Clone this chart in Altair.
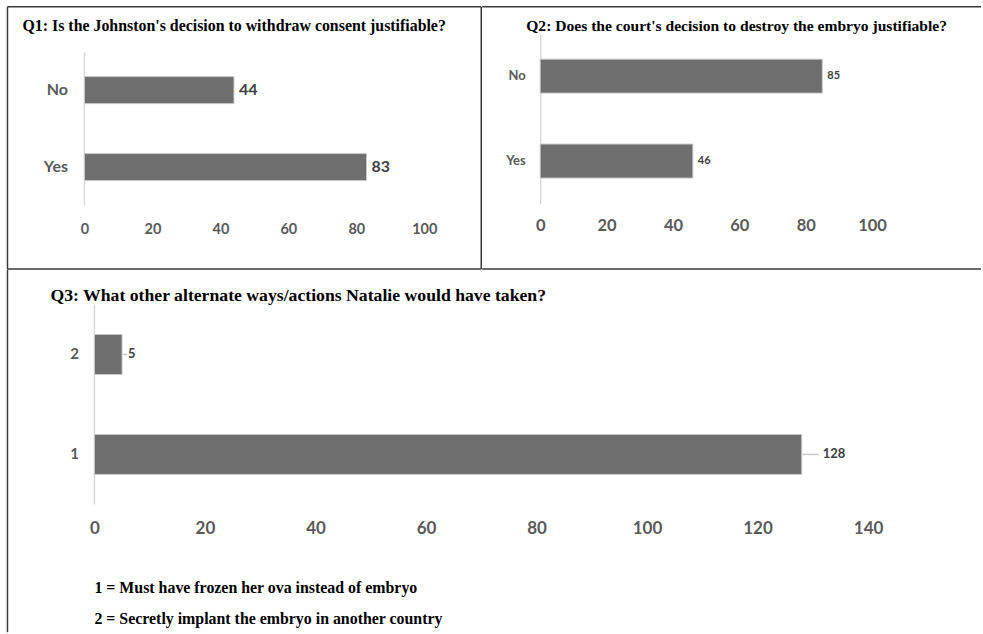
import altair as alt
import pandas as pd

# ---------------- data ----------------
q1_title = "Q1: Is the Johnston's decision to withdraw consent justifiable?"
q1_categories = ["No", "Yes"]
q1_values = [44, 83]
q1_ticks = [0, 20, 40, 60, 80, 100]

q2_title = "Q2: Does the court's decision to destroy the embryo justifiable?"
q2_categories = ["No", "Yes"]
q2_values = [85, 46]
q2_ticks = [0, 20, 40, 60, 80, 100]

q3_title = "Q3: What other alternate ways/actions Natalie would have taken?"
q3_categories = ["2", "1"]
q3_values = [5, 128]
q3_ticks = [0, 20, 40, 60, 80, 100, 120, 140]
q3_notes = [
    "1 = Must have frozen her ova instead of embryo",
    "2 = Secretly implant the embryo in another country",
]

# ---------------- style ----------------
BAR = "#6e6e6e"
BAR_EDGE = "#c8c8c8"
AXIS_TEXT = "#595959"
AXIS_LINE = "#d9d9d9"
VALUE_TEXT = "#404040"
BORDER = "#3a3a3a"
SERIF = "Liberation Serif"
SANS = "Lato"


def one_row():
    return pd.DataFrame({"k": [0]})


def rule(x1, y1, x2, y2, visible=True, color=BORDER, width=1.5):
    return alt.Chart(one_row()).mark_rule(
        color=color, strokeWidth=width, opacity=1 if visible else 0
    ).encode(x=alt.value(x1), x2=alt.value(x2), y=alt.value(y1), y2=alt.value(y2))


def text_at(txt, x, y, size, align="left"):
    return alt.Chart(pd.DataFrame({"t": [txt]})).mark_text(
        align=align, baseline="middle", font=SERIF, fontSize=size,
        fontWeight="bold", color="black"
    ).encode(x=alt.value(x), y=alt.value(y), text="t:N")


def bar_base(cats, vals, xdomain, ticks, xfs, xpad, yfs, ypad,
             ydomain_line=True, ypad_outer=0.0, yalign=0.5):
    df = pd.DataFrame({"cat": cats, "val": vals})
    return alt.Chart(df).encode(
        y=alt.Y(
            "cat:N", sort=cats,
            scale=alt.Scale(paddingInner=0, paddingOuter=ypad_outer, align=yalign),
            axis=alt.Axis(
                title=None, domain=ydomain_line, domainColor=AXIS_LINE, domainWidth=1.5,
                ticks=False, grid=False, labelFont=SANS, labelFontSize=yfs,
                labelColor=AXIS_TEXT, labelFontWeight="bold", labelPadding=ypad,
            ),
        ),
        x=alt.X(
            "val:Q",
            scale=alt.Scale(domain=xdomain, nice=False, zero=True),
            axis=alt.Axis(
                title=None, values=ticks, domain=False, ticks=False, grid=False,
                labelFont=SANS, labelFontSize=xfs, labelColor=AXIS_TEXT,
                labelFontWeight="bold", labelPadding=xpad, labelFlush=False,
                labelOverlap=False, format="d",
            ),
        ),
    )


def zero_line(y1, y2):
    return alt.Chart(one_row()).mark_rule(color=AXIS_LINE, strokeWidth=1.5).encode(
        x=alt.datum(0), y=alt.value(y1), y2=alt.value(y2))


# ---------------- panel 1 (plot origin at 84, 33) ----------------
b1 = bar_base(q1_categories, q1_values, [0, 100], q1_ticks, 14.5, 17, 16, 17,
              ydomain_line=False, ypad_outer=0.1169, yalign=1)
p1 = alt.layer(
    zero_line(19, 172),
    b1.mark_bar(size=27, color=BAR, stroke=BAR_EDGE, strokeWidth=1),
    b1.mark_text(align="left", baseline="middle", dx=5, font=SANS, fontSize=16,
                 fontWeight="bold", color=VALUE_TEXT).encode(text="val:Q"),
    text_at(q1_title, -62, -8, 15.9),
    rule(-77, -27, 397, -27),
    rule(-77, -27, -77, 235.5),
    rule(397, -27, 397, 235.5),
    rule(-77, 235.5, 397, 235.5),
).properties(width=340, height=172)

# ---------------- panel 2 (plot origin at 539, 33) ----------------
b2 = bar_base(q2_categories, q2_values, [0, 100], q2_ticks, 16.5, 14, 13, 15)
p2 = alt.layer(
    b2.mark_bar(size=34, color=BAR, stroke=BAR_EDGE, strokeWidth=1),
    b2.mark_text(align="left", baseline="middle", dx=5, font=SANS, fontSize=11,
                 fontWeight="bold", color=VALUE_TEXT).encode(text="val:Q"),
    text_at(q2_title, -14, -8, 15.6),
    rule(-58, -27, 441, -27),
    rule(-58, -27, -58, 235.5, visible=False),
    rule(441, -27, 441, 235.5, visible=False),
    rule(-58, 235.5, 441, 235.5),
).properties(width=332, height=170)

# ---------------- panel 3 (plot origin at 84, 303.5; zero at 94) ----------------
b3 = bar_base(q3_categories, q3_values, [-1.809, 140], q3_ticks, 17, 16, 15, 6,
              ydomain_line=False)
lab_small = b3.transform_filter(alt.datum.val < 20)
lab_large = b3.transform_filter(alt.datum.val >= 20)
p3 = alt.layer(
    zero_line(0, 200),
    b3.mark_bar(size=40, color=BAR, stroke=BAR_EDGE, strokeWidth=1),
    lab_small.mark_rule(color=BAR_EDGE, strokeWidth=1.5, xOffset=1, x2Offset=5).encode(x2="val:Q"),
    lab_large.mark_rule(color=BAR_EDGE, strokeWidth=1.5, xOffset=1, x2Offset=17).encode(x2="val:Q"),
    lab_small.mark_text(align="left", baseline="middle", dx=6, font=SANS, fontSize=13,
                        fontWeight="bold", color=VALUE_TEXT).encode(text="val:Q"),
    lab_large.mark_text(align="left", baseline="middle", dx=21, font=SANS, fontSize=13,
                        fontWeight="bold", color=VALUE_TEXT).encode(text="val:Q"),
    text_at(q3_title, -34, -8.5, 17.7),
    text_at(q3_notes[0], 10, 283.5, 15.9),
    text_at(q3_notes[1], 10, 314.5, 15.9),
    rule(-77, -35, 896, -35, visible=False),
    rule(-77, -35, -77, 328),
    rule(896, -35, 896, 328, visible=False),
    rule(-77, 328, 896, 328, visible=False),
).properties(width=784, height=200)

top_row = alt.hconcat(p1, p2, spacing=-3)
chart = alt.vconcat(top_row, p3, spacing=-3).properties(
    padding={"left": 5.5, "top": 4.5, "right": 0, "bottom": 0},
    background="white",
).configure_view(stroke="transparent")

chart.save("out.html", embed_options={"renderer": "svg", "actions": False})
